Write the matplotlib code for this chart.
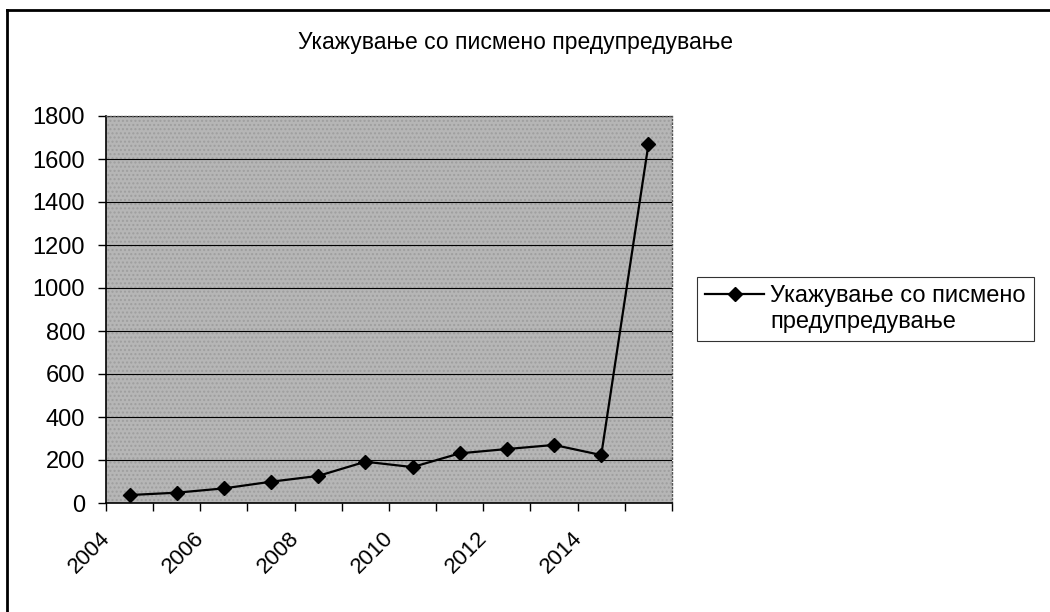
import numpy as np
import matplotlib
matplotlib.use("Agg")
import matplotlib.pyplot as plt
from matplotlib.lines import Line2D
from matplotlib.transforms import ScaledTranslation

plt.rcParams['font.family'] = ['Liberation Sans', 'DejaVu Sans']

# data
years = [2004, 2005, 2006, 2007, 2008, 2009, 2010, 2011, 2012, 2013, 2014, 2015]
values = [37, 48, 68, 99, 126, 192, 167, 231, 251, 270, 223, 1668]
yticks = [0, 200, 400, 600, 800, 1000, 1200, 1400, 1600, 1800]
title = "Укажување со писмено предупредување"
label_lines = ["Укажување со писмено", "предупредување"]

fig = plt.figure(figsize=(10.5, 6.12), dpi=100)
ax = fig.add_axes([106 / 1050, 1 - 503 / 612, 566 / 1050, 387 / 612])

# textured-looking grey plot area
ax.set_facecolor('#b6b6b6')
ax.patch.set_hatch('....')
ax.patch.set_edgecolor('#9e9e9e')
ax.patch.set_linewidth(0)

x = np.arange(len(years))
line, = ax.plot(x, values, color='black', lw=1.6, marker='D', markersize=7,
                markerfacecolor='black', markeredgecolor='black', zorder=3)

ax.set_xlim(-0.5, len(years) - 0.5)
ax.set_ylim(0, 1800)
ax.set_yticks(yticks)
ax.yaxis.grid(True, color='black', lw=0.8)
ax.set_axisbelow(True)

# category boundary tick marks, labels every other year
ax.set_xticks(np.arange(len(years) + 1) - 0.5, minor=True)
ax.set_xticks(x[::2])
ax.set_xticklabels([str(y) for y in years[::2]], rotation=45, ha='right',
                   va='top', rotation_mode='anchor', fontsize=16)
ax.tick_params(axis='x', which='major', length=0, pad=18)
ax.tick_params(axis='x', which='minor', length=6, width=1, direction='out')
ax.tick_params(axis='y', length=6, width=1, pad=9, labelsize=17)
shift = ScaledTranslation(-30 / 100, 0, fig.dpi_scale_trans)
for lab in ax.get_xticklabels():
    lab.set_transform(lab.get_transform() + shift)

for side in ['left', 'bottom']:
    ax.spines[side].set_color('black')
    ax.spines[side].set_linewidth(1.2)
for side in ['top', 'right']:
    ax.spines[side].set_color('#555555')
    ax.spines[side].set_linewidth(1)
    ax.spines[side].set_linestyle(':')

fig.text(515 / 1050, 1 - 42 / 612, title, ha='center', va='center', fontsize=16.5)

# marker sits next to the first line of the label, as in the original
blank = Line2D([], [], color='none')
leg = fig.legend([line, blank], label_lines, loc='center left',
                 bbox_to_anchor=(685 / 1050, 1 - 309 / 612),
                 fontsize=17, frameon=True, fancybox=False, handlelength=2.5,
                 handletextpad=0.25, borderpad=0.35, labelspacing=0.15)
leg.get_frame().set_edgecolor('black')
leg.get_frame().set_linewidth(0.8)

# outer chart border (right and bottom edges fall outside the picture)
fig.add_artist(Line2D([7 / 1050, 7 / 1050], [0, 1 - 10 / 612], color='black', lw=2,
                      transform=fig.transFigure))
fig.add_artist(Line2D([7 / 1050, 1], [1 - 10 / 612, 1 - 10 / 612], color='black', lw=2,
                      transform=fig.transFigure))

fig.savefig('out.png', dpi=100, facecolor='white')
